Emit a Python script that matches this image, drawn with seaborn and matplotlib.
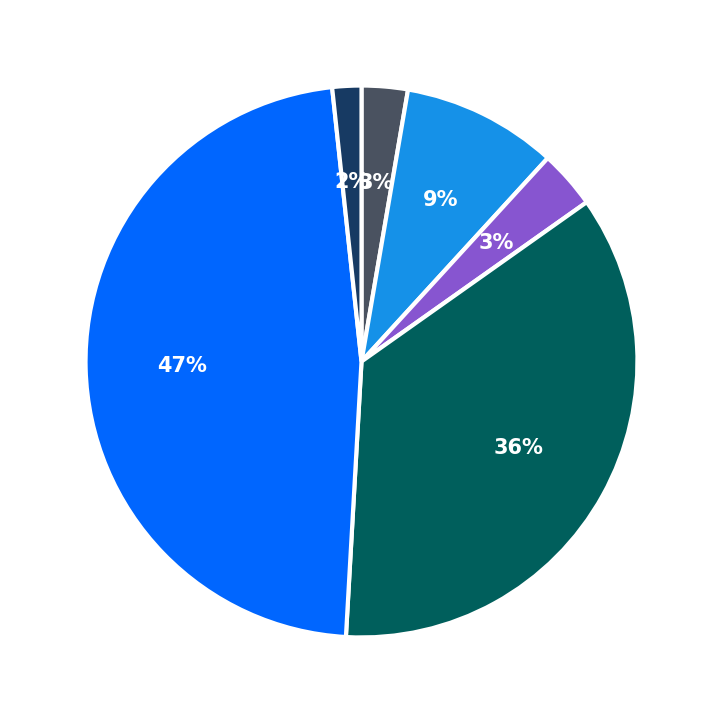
import matplotlib
matplotlib.use("Agg")
import matplotlib.pyplot as plt
import seaborn as sns

sns.set_theme(style="white")
plt.rcParams['font.family'] = ['DejaVu Sans']

labels = ["A", "B", "C", "D", "E", "F"]
values = [2.7, 9.1, 3.4, 35.7, 47.4, 1.7]
colors = ["#4a5260", "#1591e8", "#8755d0", "#005f5c", "#0066ff", "#173a63"]

fig = plt.figure(figsize=(7.23, 7.23), dpi=100)
ax = fig.add_axes([0, 0, 1, 1])
wedges, texts, autotexts = ax.pie(
    values, colors=colors, startangle=90, counterclock=False,
    autopct="%.0f%%", pctdistance=0.65, radius=1.0,
    wedgeprops=dict(edgecolor="white", linewidth=3),
    textprops=dict(color="white", fontsize=15, fontweight="bold"))
ax.set_aspect("equal")
ax.set_xlim(-1.31, 1.31)
ax.set_ylim(-1.31, 1.31)
ax.axis("off")
fig.savefig("out.png", dpi=100)
